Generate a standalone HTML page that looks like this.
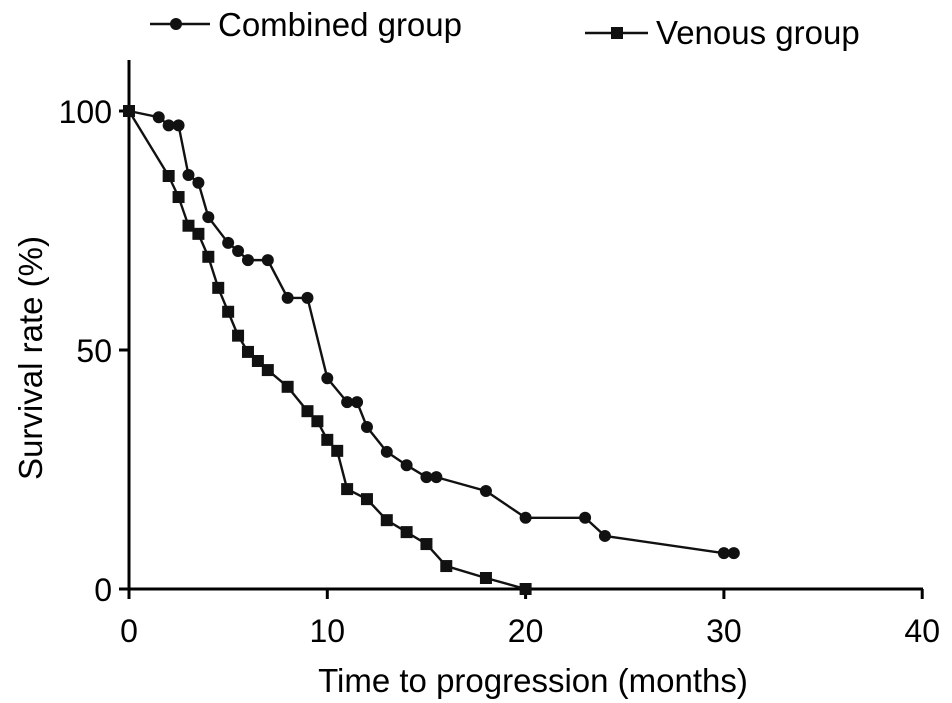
<!DOCTYPE html>
<html><head><meta charset="utf-8"><style>
body{margin:0;background:#fff}
svg{display:block;font-family:"Liberation Sans",Arial,sans-serif}
</style></head><body>
<svg id="c" width="952" height="703"></svg>
<script>
const combinedX=[0,1.5,2,2.5,3,3.5,4,5,5.5,6,7,8,9,10,11,11.5,12,13,14,15,15.5,18,20,23,24,30,30.5];
const combinedY=[100,98.7,97,97,86.6,85,77.8,72.4,70.7,68.8,68.8,60.9,60.9,44.1,39.1,39.1,33.9,28.7,25.9,23.4,23.4,20.5,14.9,14.9,11.1,7.5,7.5];
const venousX=[0,2,2.5,3,3.5,4,4.5,5,5.5,6,6.5,7,8,9,9.5,10,10.5,11,12,13,14,15,16,18,20];
const venousY=[100,86.4,82,76,74.3,69.5,63,58,53,49.6,47.7,45.8,42.3,37.2,35.1,31.2,28.9,20.9,18.8,14.4,11.9,9.4,4.8,2.3,0];
const xTicks=[0,10,20,30,40];
const yTicks=[0,50,100];
const NS="http://www.w3.org/2000/svg";
const svg=document.getElementById('c');
const X=v=>129+v*19.83, Y=v=>589-v*4.78;
function mk(t,a,p){const e=document.createElementNS(NS,t);for(const k in a)e.setAttribute(k,a[k]);(p||svg).appendChild(e);return e;}
let ax=mk('line',{x1:129,y1:60,x2:129,y2:590,stroke:'#000','stroke-width':3});

ax=mk('line',{x1:127,y1:589,x2:923,y2:589,stroke:'#000','stroke-width':3});

xTicks.forEach(t=>{
 const l=mk('line',{x1:X(t),y1:589,x2:X(t),y2:599,stroke:'#000','stroke-width':3});
 
 const tx=mk('text',{x:X(t),y:642,'text-anchor':'middle','font-size':32});tx.textContent=t;
 
});
yTicks.forEach(t=>{
 const l=mk('line',{x1:119,y1:Y(t),x2:129,y2:Y(t),stroke:'#000','stroke-width':3});
 
 const tx=mk('text',{x:112,y:Y(t)+12,'text-anchor':'end','font-size':32});tx.textContent=t;
 
});
let tt=mk('text',{x:533,y:692,'text-anchor':'middle','font-size':33});tt.textContent='Time to progression (months)';

tt=mk('text',{x:0,y:0,'text-anchor':'middle','font-size':33,transform:'translate(42,358) rotate(-90)'});tt.textContent='Survival rate (%)';

function series(xs,ys,shape,name){
 const pts=xs.map((x,i)=>X(x)+','+Y(ys[i])).join(' ');
 const pl=mk('polyline',{points:pts,fill:'none',stroke:'#111','stroke-width':2.4});
 
 xs.forEach((x,i)=>{
  let m;
  if(shape==='c')m=mk('circle',{cx:X(x),cy:Y(ys[i]),r:6,fill:'#111'});
  else m=mk('rect',{x:X(x)-6,y:Y(ys[i])-6,width:12,height:12,fill:'#111'});
  
 });
}
series(combinedX,combinedY,'c','combined');
series(venousX,venousY,'s','venous');
let g=mk('g',{});
mk('line',{x1:150,y1:24,x2:210,y2:24,stroke:'#111','stroke-width':2.4},g);
mk('circle',{cx:176,cy:24,r:6,fill:'#111'},g);
let lt=mk('text',{x:218,y:36,'font-size':33},g);lt.textContent='Combined group';
g=mk('g',{});
mk('line',{x1:585,y1:33,x2:648,y2:33,stroke:'#111','stroke-width':2.4},g);
mk('rect',{x:611,y:27,width:12,height:12,fill:'#111'},g);
lt=mk('text',{x:656,y:44,'font-size':33},g);lt.textContent='Venous group';
</script>
</body></html>
